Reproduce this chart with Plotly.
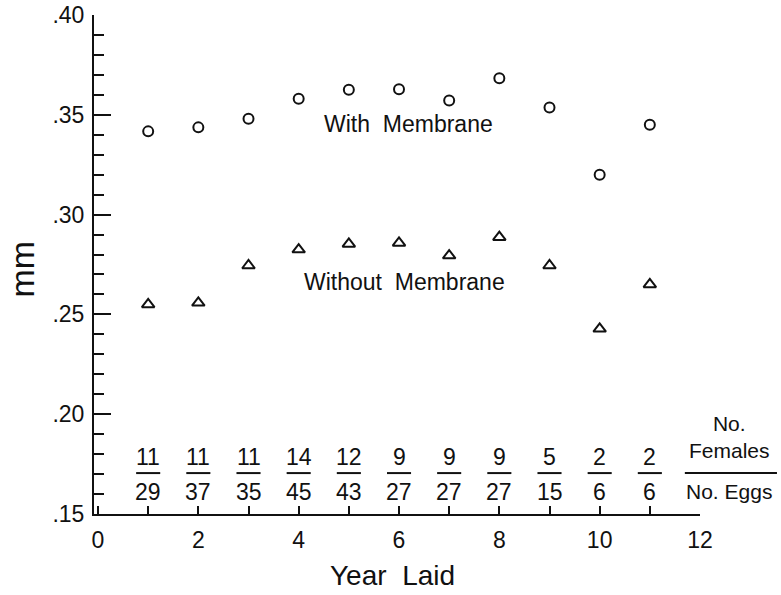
import plotly.graph_objects as go

years = [1, 2, 3, 4, 5, 6, 7, 8, 9, 10, 11]
with_membrane = [0.3417, 0.3437, 0.348, 0.358, 0.3625, 0.3628, 0.3572, 0.3683, 0.3537, 0.320, 0.345]
without_membrane = [0.255, 0.2558, 0.2745, 0.2825, 0.2853, 0.2858, 0.2795, 0.2887, 0.2745, 0.2428, 0.265]
n_females = [11, 11, 11, 14, 12, 9, 9, 9, 5, 2, 2]
n_eggs = [29, 37, 35, 45, 43, 27, 27, 27, 15, 6, 6]

y_tickvals = [0.15, 0.20, 0.25, 0.30, 0.35, 0.40]
y_ticktext = [".15", ".20", ".25", ".30", ".35", ".40"]
x_tickvals = [0, 2, 4, 6, 8, 10, 12]
x_ticktext = ["0", "2", "4", "6", "8", "10", "12"]

FONT = "Liberation Sans, Arial, Helvetica, sans-serif"
INK = "#111111"
FS = 23

fig = go.Figure()
fig.add_trace(go.Scatter(
    x=years, y=with_membrane, mode="markers", name="With Membrane",
    marker=dict(symbol="circle-open", size=10, color=INK, line=dict(width=2, color=INK)),
    showlegend=False, cliponaxis=False))
fig.add_trace(go.Scatter(
    x=years, y=without_membrane, mode="markers", name="Without Membrane",
    marker=dict(symbol="triangle-up-open", size=11, color=INK, line=dict(width=2, color=INK)),
    showlegend=False, cliponaxis=False))

num_y = 0.1786
den_y = 0.161
bar_y = 0.1705


def txt(x, y, text, xref="x", yref="y", size=FS, **kw):
    return dict(x=x, y=y, xref=xref, yref=yref, text=text, showarrow=False,
                xanchor="center", yanchor="middle",
                font=dict(size=size, color=INK, family=FONT), **kw)


annotations = []
shapes = []
for x, f, e in zip(years, n_females, n_eggs):
    annotations.append(txt(x, num_y, str(f)))
    annotations.append(txt(x, den_y, str(e)))
    shapes.append(dict(type="line", xref="x", yref="y", x0=x - 0.24, x1=x + 0.24,
                       y0=bar_y, y1=bar_y, line=dict(color=INK, width=2)))

annotations += [
    txt(1.048, 0.154, "No.<br>Females", xref="paper", yref="paper", size=21),
    txt(1.048, 0.046, "No. Eggs", xref="paper", yref="paper", size=21),
    txt(6.18, 0.3455, "With\u00a0\u00a0Membrane"),
    txt(6.10, 0.266, "Without\u00a0\u00a0Membrane"),
    txt(0.493, -0.124, "Year\u00a0\u00a0Laid", xref="paper", yref="paper", size=28),
    txt(-0.1188, 0.49, "mm", xref="paper", yref="paper", size=34, textangle=-90),
]
shapes.append(dict(type="line", xref="paper", yref="y", x0=0.975, x1=1.127,
                   y0=bar_y, y1=bar_y, line=dict(color=INK, width=2)))

fig.update_layout(
    width=781, height=595,
    margin=dict(l=94, r=81, t=15, b=81, autoexpand=False),
    paper_bgcolor="white", plot_bgcolor="white",
    font=dict(family=FONT, color=INK, size=FS),
    annotations=annotations, shapes=shapes,
    xaxis=dict(range=[-0.08, 12], showgrid=False, zeroline=False, automargin=False,
               showline=True, linecolor=INK, linewidth=2,
               tickmode="array", tickvals=x_tickvals, ticktext=x_ticktext,
               ticks="inside", ticklen=8, tickwidth=2, tickcolor=INK,
               ticklabelstandoff=4, ticklabeloverflow="allow",
               minor=dict(dtick=1, tick0=0, ticks="inside", ticklen=8, tickwidth=2, tickcolor=INK),
               tickfont=dict(size=FS, family=FONT, color=INK)),
    yaxis=dict(range=[0.15, 0.40], showgrid=False, zeroline=False, automargin=False,
               showline=True, linecolor=INK, linewidth=2,
               tickmode="array", tickvals=y_tickvals, ticktext=y_ticktext,
               ticks="inside", ticklen=17, tickwidth=2, tickcolor=INK,
               ticklabelstandoff=3, ticklabeloverflow="allow",
               minor=dict(dtick=0.01, tick0=0.15, ticks="inside", ticklen=10, tickwidth=2, tickcolor=INK),
               tickfont=dict(size=FS, family=FONT, color=INK)),
)

# remove the browser's default 8px body margin so the figure fills the window exactly
fig.write_html("out.html", config={"displayModeBar": False},
               post_script="document.body.style.margin='0';")
